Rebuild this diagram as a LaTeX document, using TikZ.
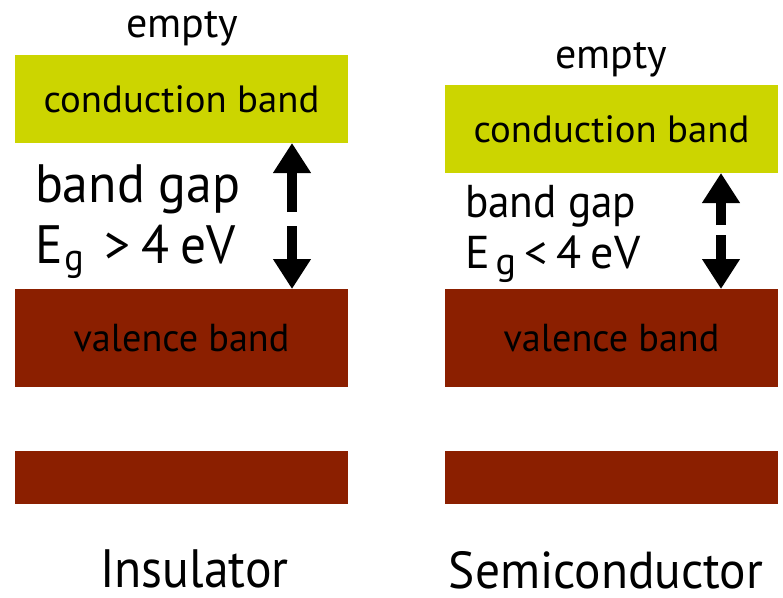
\documentclass[tikz,border=0pt]{standalone}
\usepackage{fontspec}
\setmainfont{PT Sans}
\usetikzlibrary{arrows.meta}
\definecolor{cband}{RGB}{204,213,0}
\definecolor{vband}{RGB}{139,31,0}
\newcommand{\squeeze}[2]{\scalebox{#1}[1]{#2}}
\begin{document}
\begin{tikzpicture}[x=1pt,y=-1pt,
  bandbox/.style={inner sep=0pt, outer sep=0pt, minimum width=333pt, text=black},
  cbox/.style={bandbox, fill=cband, minimum height=88pt, font=\fontsize{38}{40}\selectfont},
  vbox/.style={bandbox, fill=vband, minimum height=98pt, font=\fontsize{39}{41}\selectfont},
  lbox/.style={bandbox, fill=vband, minimum height=53pt},
  lbl/.style={inner sep=0pt, outer sep=0pt, text=black},
  bigarrow/.style={draw=black, line width=10pt, -{Triangle[length=30pt,width=36pt]}}
]
\useasboundingbox (0,0) rectangle (783,597);
\fill[white] (0,0) rectangle (783,597);

% ---- Insulator ----
\node[cbox] (lcb) at (181.5,99) {\squeeze{1.02}{conduction band}};
\node[vbox] (lvb) at (181.5,338) {\squeeze{0.98}{valence band}};
\node[lbox] (llow) at (181.5,477.5) {};
\node[lbl, anchor=base, font=\fontsize{42}{44}\selectfont] (lempty) at (182.5,37) {empty};
\node[lbl, anchor=base west, font=\fontsize{54}{56}\selectfont] (lgap) at (35,202) {\squeeze{0.96}{band gap}};
\node[lbl, anchor=base west, font=\fontsize{54}{56}\selectfont] (leg) at (35,263)
  {\squeeze{0.95}{E\kern2pt\raisebox{-7pt}{\fontsize{38}{40}\selectfont g}\hspace{22pt}>\kern12pt4\kern11pt eV}};
\node[lbl, anchor=base, font=\fontsize{54}{56}\selectfont] (lname) at (194.5,587) {\squeeze{0.92}{Insulator}};
\coordinate (lup) at (292,212);
\coordinate (ldn) at (292,226);
\draw[bigarrow] (lup) -- (lcb.south -| lup);
\draw[bigarrow] (ldn) -- (lvb.north -| ldn);

% ---- Semiconductor ----
\node[cbox] (rcb) at (611.5,129) {\squeeze{1.02}{conduction band}};
\node[vbox] (rvb) at (611.5,338) {\squeeze{0.98}{valence band}};
\node[lbox] (rlow) at (611.5,477.5) {};
\node[lbl, anchor=base, font=\fontsize{42}{44}\selectfont] (rempty) at (611.5,68) {empty};
\node[lbl, anchor=base west, font=\fontsize{46}{48}\selectfont] (rgap) at (465,217) {\squeeze{0.94}{band gap}};
\node[lbl, anchor=base west, font=\fontsize{46}{48}\selectfont] (reg) at (465,268)
  {E\kern6pt\raisebox{-6pt}{\fontsize{38}{40}\selectfont g}\kern8pt<\kern9pt4\kern9pt e\kern1ptV};
\node[lbl, anchor=base, font=\fontsize{52}{54}\selectfont] (rname) at (606,588) {\squeeze{0.95}{Semiconductor}};
\coordinate (rup) at (721,225);
\coordinate (rdn) at (721,235);
\draw[bigarrow] (rup) -- (rcb.south -| rup);
\draw[bigarrow] (rdn) -- (rvb.north -| rdn);
\end{tikzpicture}
\end{document}
